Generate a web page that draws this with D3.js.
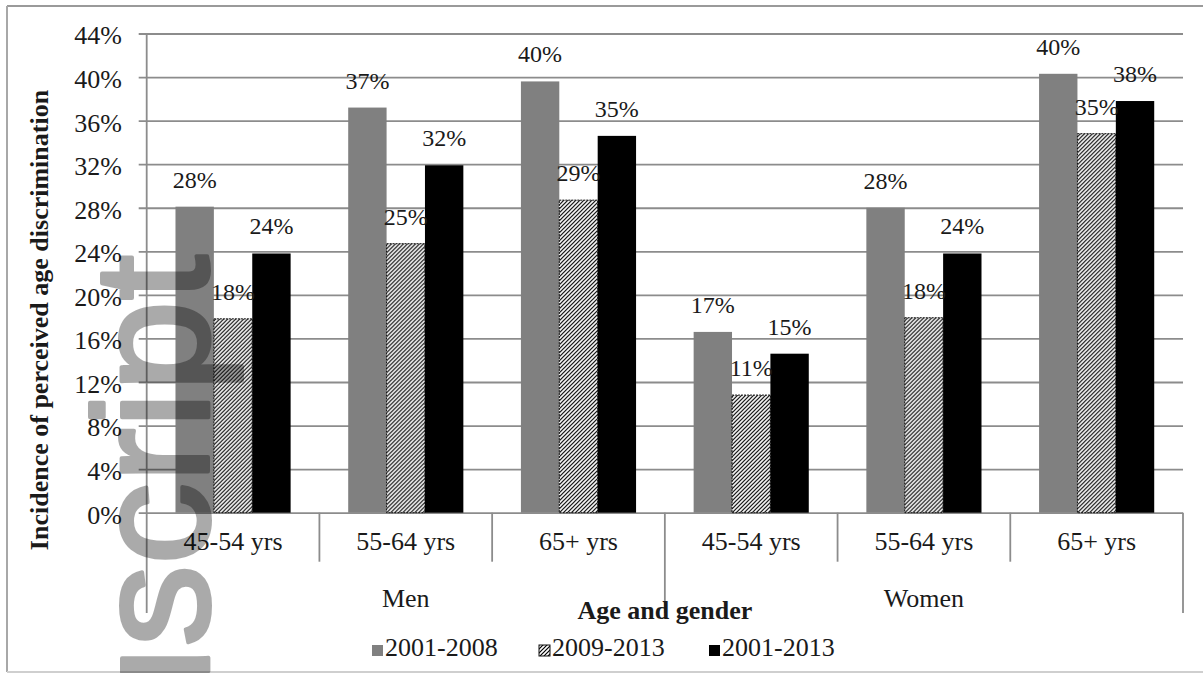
<!DOCTYPE html>
<html>
<head>
<meta charset="utf-8">
<script src="https://cdn.jsdelivr.net/npm/d3@7"></script>
<style>
  html, body { margin: 0; padding: 0; background: #fff; }
  svg text { font-family: "Liberation Serif", "Times New Roman", Times, serif; }
</style>
</head>
<body>
<div id="chart"></div>
<script>
// Perceived age discrimination by age band and gender
const genders = ['Men', 'Women'];
const ageBands = ['45-54 yrs', '55-64 yrs', '65+ yrs'];
const seriesNames = ['2001-2008', '2009-2013', '2001-2013'];
const values2001_2008 = [28.1, 37.2, 39.6, 16.6, 28.0, 40.3];
const values2009_2013 = [17.8, 24.7, 28.7, 10.8, 17.9, 34.8];
const values2001_2013 = [23.8, 31.9, 34.6, 14.6, 23.8, 37.8];
const yTicks = [0, 4, 8, 12, 16, 20, 24, 28, 32, 36, 40, 44];

const W = 1203, H = 673;
const plot = { left: 146.7, right: 1183, top: 33.5, bottom: 512.7 };
const gridColor = '#8c8c8c';
const textColor = '#1a1a1a';
const serif = '"Liberation Serif", "Times New Roman", Times, serif';

const categories = [];
genders.forEach(g => ageBands.forEach(a => categories.push(g + '|' + a)));

const seriesValues = [values2001_2008, values2009_2013, values2001_2013];
const rows = categories.map((c, i) => ({
    cat: c,
    vals: seriesNames.map((s, j) => ({ series: s, value: seriesValues[j][i] }))
}));

const svg = d3.select('#chart').append('svg')
    .attr('width', W)
    .attr('height', H)
    .attr('font-family', serif)
    .style('display', 'block');

// hatch pattern for 2009-2013
const defs = svg.append('defs');
defs.append('pattern')
    .attr('id', 'hatch')
    .attr('patternUnits', 'userSpaceOnUse')
    .attr('width', 4).attr('height', 4)
    .call(p => {
        p.append('rect').attr('width', 4).attr('height', 4).attr('fill', '#fff');
        p.append('path')
            .attr('d', 'M-1,1 l2,-2 M0,4 l4,-4 M3,5 l2,-2')
            .attr('stroke', '#000').attr('stroke-width', 1.2);
    });

const fills = { '2001-2008': '#808080', '2009-2013': 'url(#hatch)', '2001-2013': '#000' };

// outer frame
svg.append('line').attr('x1', 7).attr('x2', W).attr('y1', 6).attr('y2', 6)
    .attr('stroke', '#9a9a9a').attr('stroke-width', 2);
svg.append('line').attr('x1', 7).attr('x2', 7).attr('y1', 6).attr('y2', 672)
    .attr('stroke', '#a8a8a8').attr('stroke-width', 2);
svg.append('line').attr('x1', 7).attr('x2', W).attr('y1', 672).attr('y2', 672)
    .attr('stroke', '#cfcfcf').attr('stroke-width', 2);

const x = d3.scaleBand()
    .domain(categories)
    .range([plot.left, plot.right])
    .padding(0);

const xs = d3.scaleBand()
    .domain(seriesNames)
    .range([0, x.bandwidth()])
    .paddingInner(0)
    .paddingOuter(0.75);

const y = d3.scaleLinear()
    .domain([0, 44])
    .range([plot.bottom, plot.top]);

// gridlines (extend 8px left of axis as ticks)
svg.append('g')
    .attr('transform', `translate(${plot.left - 8},0)`)
    .call(d3.axisRight(y).tickValues(yTicks).tickSize(plot.right - plot.left + 8).tickFormat(''))
    .call(g => g.select('.domain').remove())
    .call(g => g.selectAll('line').attr('stroke', gridColor).attr('stroke-width', 1.8));

// y tick labels
svg.append('g')
    .attr('transform', `translate(${plot.left},0)`)
    .call(d3.axisLeft(y).tickValues(yTicks).tickSize(0).tickPadding(24.7).tickFormat(d => d + '%'))
    .attr('font-family', serif)
    .attr('font-size', 26)
    .call(g => g.select('.domain').remove())
    .call(g => g.selectAll('text')
        .attr('dy', '0.4em')
        .attr('fill', textColor));

// bars
const groupsSel = svg.append('g').selectAll('g')
    .data(rows)
    .enter().append('g')
    .attr('transform', d => `translate(${x(d.cat)},0)`);

groupsSel.selectAll('rect')
    .data(d => d.vals)
    .enter().append('rect')
    .attr('x', d => xs(d.series))
    .attr('width', xs.bandwidth())
    .attr('y', d => y(d.value))
    .attr('height', d => y(0) - y(d.value))
    .attr('fill', d => fills[d.series])
    .attr('stroke', d => d.series === '2009-2013' ? '#111' : 'none')
    .attr('stroke-width', 1)
    .attr('stroke-dasharray', d => d.series === '2009-2013' ? '2,1' : null);

// data labels
groupsSel.selectAll('text')
    .data(d => d.vals)
    .enter().append('text')
    .attr('x', d => xs(d.series) + xs.bandwidth() / 2)
    .attr('y', d => y(d.value) - 19)
    .attr('text-anchor', 'middle')
    .attr('font-size', 24)
    .attr('fill', textColor)
    .text(d => Math.round(d.value) + '%');

// left axis line
svg.append('line')
    .attr('x1', plot.left).attr('x2', plot.left)
    .attr('y1', plot.top).attr('y2', 613)
    .attr('stroke', gridColor).attr('stroke-width', 1.8);

// category axis: labels + separators
svg.append('g')
    .attr('transform', `translate(0,${plot.bottom})`)
    .call(d3.axisBottom(x).tickSize(0).tickPadding(0).tickFormat(d => d.split('|')[1]))
    .attr('font-family', serif)
    .attr('font-size', 26)
    .call(g => g.select('.domain').remove())
    .call(g => g.selectAll('text')
        .attr('dy', 0)
        .attr('y', 37.5)
        .attr('fill', textColor));

const edges = categories.map(c => x(c)).concat([plot.right]);
svg.append('g').selectAll('line')
    .data(edges.slice(1))
    .enter().append('line')
    .attr('x1', d => d).attr('x2', d => d)
    .attr('y1', plot.bottom)
    .attr('y2', (d, i) => ((i + 1) % ageBands.length === 0) ? 613 : 561.7)
    .attr('stroke', gridColor).attr('stroke-width', 1.8);

// gender group labels
const genderScale = d3.scaleBand().domain(genders).range([plot.left, plot.right]);
svg.append('g').selectAll('text')
    .data(genders)
    .enter().append('text')
    .attr('x', d => genderScale(d) + genderScale.bandwidth() / 2)
    .attr('y', 607)
    .attr('text-anchor', 'middle')
    .attr('font-size', 26)
    .attr('fill', textColor)
    .text(d => d);

// axis titles
svg.append('text')
    .attr('x', (plot.left + plot.right) / 2)
    .attr('y', 619)
    .attr('text-anchor', 'middle')
    .attr('font-size', 26)
    .attr('font-weight', 'bold')
    .attr('fill', textColor)
    .text('Age and gender');

svg.append('text')
    .attr('transform', 'translate(48,320) rotate(-90)')
    .attr('text-anchor', 'middle')
    .attr('font-size', 26)
    .attr('font-weight', 'bold')
    .attr('fill', textColor)
    .text('Incidence of perceived age discrimination');

// legend
const legendX = [372, 539, 709];
const legend = svg.append('g').selectAll('g')
    .data(seriesNames)
    .enter().append('g')
    .attr('transform', (d, i) => `translate(${legendX[i]},645)`);
legend.append('rect')
    .attr('width', 11).attr('height', 11)
    .attr('fill', d => fills[d])
    .attr('stroke', d => d === '2009-2013' ? '#111' : 'none');
legend.append('text')
    .attr('x', 13).attr('y', 11)
    .attr('font-size', 26)
    .attr('fill', textColor)
    .text(d => d);

// watermark (group opacity so fill + stroke don't double up)
svg.append('g')
    .attr('opacity', 0.33)
    .append('text')
    .attr('transform', 'translate(208,255) rotate(-90)')
    .attr('text-anchor', 'end')
    .attr('font-size', 164)
    .attr('fill', '#000')
    .attr('stroke', '#000')
    .attr('stroke-width', 4)
    .attr('stroke-linejoin', 'round')
    .style('font-family', '"Liberation Sans", Arial, sans-serif')
    .text('Manuscript');
</script>
</body>
</html>
